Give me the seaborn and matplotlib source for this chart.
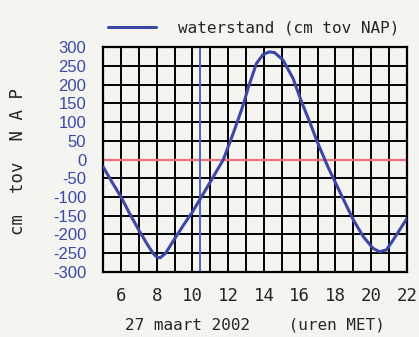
import matplotlib
matplotlib.use("Agg")
import matplotlib.pyplot as plt
import seaborn as sns
import pandas as pd

# waterstand (cm tov NAP), 27 maart 2002, uren MET
HOURS = [5.0, 5.5, 6.0, 6.5, 7.0, 7.5, 7.8, 8.0, 8.2, 8.5, 9.0, 9.5, 10.0,
         10.4, 11.0, 11.73, 12.27, 12.75, 12.93, 13.11, 13.58, 13.95, 14.3,
         14.6, 15.07, 15.63, 16.1, 16.56, 17.0, 17.58, 18.46, 19.0, 19.56,
         20.1, 20.47, 20.85, 21.22, 22.0]
LEVELS = [-19, -60, -99, -145, -188, -228, -250, -260, -262, -250, -212, -175,
          -140, -108, -60, 0, 68, 133, 160, 190, 256, 280, 287, 285, 265, 216,
          154, 100, 45, -20, -108, -161, -206, -237, -246, -241, -215, -157]
NOW_HOUR = 10.4
X_TICKS = [6, 8, 10, 12, 14, 16, 18, 20, 22]
Y_TICKS = list(range(-300, 301, 50))

BLUE = "#3b48a6"
RED = "#f07078"
BG = "#f4f4f1"

df = pd.DataFrame({"uur": HOURS, "waterstand": LEVELS})

sns.set_style("white")
plt.rcParams["font.family"] = ["DejaVu Sans Mono", "DejaVu Sans"]

fig = plt.figure(figsize=(4.19, 3.37), dpi=100, facecolor=BG)
ax = fig.add_axes([0.2458, 0.1929, 0.7256, 0.6676])
ax.set_facecolor(BG)

# grid: every hour, every 50 cm
for h in range(5, 23):
    ax.axvline(h, color="black", linewidth=1.4, zorder=1)
for v in Y_TICKS:
    ax.axhline(v, color="black", linewidth=1.4, zorder=1)
ax.axhline(0, color=RED, linewidth=1.6, zorder=2)
ax.axvline(NOW_HOUR, color="#4a66c8", linewidth=1.4, zorder=2)

sns.lineplot(data=df, x="uur", y="waterstand", ax=ax, color=BLUE,
             linewidth=2.2, sort=False, zorder=3,
             label="waterstand (cm tov NAP)")

ax.set_xlim(5, 22)
ax.set_ylim(-300, 300)
ax.set_xticks(X_TICKS)
ax.set_xticklabels([str(t) for t in X_TICKS], fontsize=12.5)
ax.set_yticks(Y_TICKS)
ax.set_yticklabels([str(t) for t in Y_TICKS], fontsize=12, color=BLUE,
                   family=["Liberation Sans", "DejaVu Sans"])
ax.tick_params(axis="x", length=0, pad=11)
ax.tick_params(axis="y", length=0, pad=12)
ax.set_xlabel("27 maart 2002    (uren MET)", fontsize=11.5, labelpad=9)
ax.set_ylabel("cm  tov  N A P", fontsize=12.5)
ax.yaxis.set_label_coords(-0.25, 0.49)
for s in ax.spines.values():
    s.set_color("black")
    s.set_linewidth(1.6)

ax.legend(loc="lower left", bbox_to_anchor=(-0.02, 1.0), frameon=False,
          handlelength=3.0, handletextpad=1.4, fontsize=11.5, borderaxespad=0.3)

fig.savefig("out.png", dpi=100, facecolor=BG)
